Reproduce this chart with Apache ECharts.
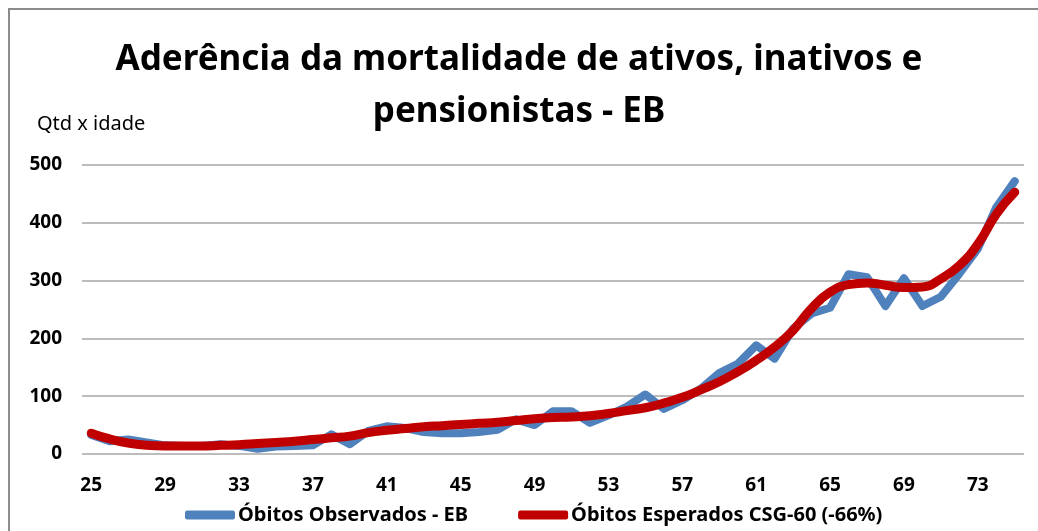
<!DOCTYPE html>
<html>
<head>
<meta charset="utf-8">
<title>Aderência da mortalidade</title>
<script src="https://cdn.jsdelivr.net/npm/echarts@6/dist/echarts.min.js"></script>
<style>
  html, body { margin: 0; padding: 0; background: #fff; }
  #char { width: 1038px; height: 531px; }
</style>
</head>
<body>
<div id="char"></div>
<script>
// idades (eixo x)
const idades = []
for (let i = 25; i <= 75; i++) idades.push(String(i))

// óbitos observados - EB
const observados = [
  33, 22, 25, 20, 15, 14, 14, 17, 14, 9,
  13, 14, 15, 34, 17, 40, 48, 45, 38, 36,
  36, 38, 42, 60, 50, 74, 74, 54, 67, 82,
  103, 78, 93, 113, 140, 156, 188, 165, 217, 243,
  253, 311, 306, 256, 304, 256, 272, 312, 355, 427,
  472
]

// óbitos esperados CSG-60 (-66%)
const esperados = [
  36, 26, 19, 15, 14, 14, 14, 15, 16, 18,
  20, 22, 25, 28, 31, 37, 41, 44, 47, 49,
  51, 53, 55, 58, 61, 63, 64, 66, 70, 75,
  80, 88, 98, 111, 125, 142, 162, 185, 214, 252,
  280, 293, 296, 292, 288, 289, 303, 326, 363, 415,
  453
]

const nomes = ['Óbitos Observados - EB', 'Óbitos Esperados CSG-60 (-66%)']
const fonte = '"Noto Sans", "Open Sans", sans-serif'

let myChart = echarts.init(document.getElementById('char'))
let option = {
  animation: false,
  color: ['#4f81bd', '#c00000'],
  title: {
    text: 'Aderência da mortalidade de ativos, inativos e\npensionistas - EB',
    left: 'center',
    top: 29,
    textStyle: {
      fontFamily: fonte,
      fontSize: 35,
      fontWeight: 'bold',
      color: '#000',
      lineHeight: 52
    }
  },
  graphic: [
    {
      type: 'rect',
      shape: { x: 9, y: 9, width: 1200, height: 700 },
      style: { fill: 'none', stroke: '#8c8c8c', lineWidth: 2 },
      silent: true
    },
    {
      type: 'text',
      left: 37,
      top: 114,
      style: { text: 'Qtd x idade', fontFamily: fonte, fontSize: 20, fill: '#000' }
    }
  ],
  grid: {
    left: 82,
    right: 14,
    top: 165,
    bottom: 77
  },
  legend: {
    data: nomes,
    bottom: 1,
    left: 180,
    icon: 'roundRect',
    itemWidth: 50,
    itemHeight: 9,
    itemGap: 50,
    textStyle: { fontFamily: fonte, fontSize: 20, fontWeight: 'bold', color: '#000', padding: [0, 0, 0, -2] }
  },
  xAxis: {
    type: 'category',
    boundaryGap: true,
    data: idades,
    axisTick: { show: false },
    axisLine: { show: false },
    axisLabel: {
      interval: 3,
      margin: 22,
      fontFamily: fonte,
      fontSize: 19,
      fontWeight: 'bold',
      color: '#000'
    }
  },
  yAxis: {
    type: 'value',
    min: 0,
    max: 500,
    interval: 100,
    axisLine: { show: false },
    axisTick: { show: false },
    axisLabel: {
      margin: 20,
      fontFamily: fonte,
      fontSize: 19,
      fontWeight: 'bold',
      color: '#000'
    },
    splitLine: {
      lineStyle: { color: '#a6a6a6', width: 1.5 }
    }
  },
  series: [
    {
      name: nomes[0],
      type: 'line',
      data: observados,
      symbol: 'none',
      smooth: false,
      lineStyle: { width: 8, cap: 'round', join: 'round' }
    },
    {
      name: nomes[1],
      type: 'line',
      data: esperados,
      symbol: 'none',
      smooth: true,
      lineStyle: { width: 9, cap: 'round', join: 'round' }
    }
  ]
}
myChart.setOption(option)
</script>
</body>
</html>
